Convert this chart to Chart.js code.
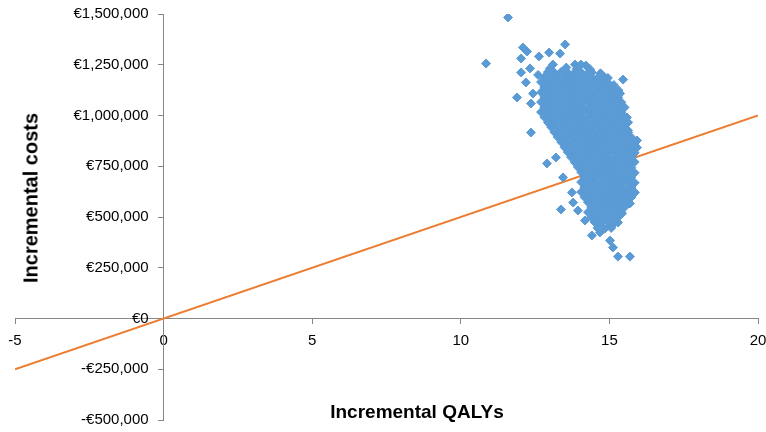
<!DOCTYPE html>
<html>
<head>
<meta charset="utf-8">
<script src="https://cdn.jsdelivr.net/npm/chart.js@4/dist/chart.umd.min.js"></script>
<style>
  html, body { margin: 0; padding: 0; background: #fff; }
  #wrap { position: relative; width: 766px; height: 432px; }
  .axis-title {
    position: absolute;
    font-family: "Liberation Sans", Arial, sans-serif;
    font-weight: bold;
    font-size: 19px;
    color: #000;
    white-space: nowrap;
  }
  #yTitle { left: 31px; top: 198px; font-size: 20px; transform: translate(-50%, -50%) rotate(-90deg); }
  #xTitle { left: 417px; top: 412px; transform: translate(-50%, -50%); }
</style>
</head>
<body>
<div id="wrap">
  <canvas id="ce" width="766" height="432"></canvas>
  <div class="axis-title" id="yTitle">Incremental costs</div>
  <div class="axis-title" id="xTitle">Incremental QALYs</div>
</div>
<script>
/* ── Data ───────────────────────────────────────────────────── */
// axis ticks
const qalyTicks = [-5, 0, 5, 10, 15, 20];
const costTicks = [-500000, -250000, 0, 250000, 500000, 750000, 1000000, 1250000, 1500000];

// willingness-to-pay threshold line (end points)
const wtpQalys = [-5, 20];
const wtpCosts = [-250000, 1000000];

// bootstrap iterations, outlying ones: [incremental QALYs, incremental costs in € thousands]
const outliers = [
  [11.59,1483],[10.85,1256],[12.09,1335],[12.23,1315],[12.03,1281],[12.97,1310],
  [12.63,1291],[12.03,1212],[12.33,1232],[12.19,1163],[13.51,1350],[13.34,1305],
  [13.10,1251],[13.84,1251],[14.04,1251],[14.21,1246],[14.41,1212],[14.85,1187],
  [15.46,1177],[11.89,1089],[12.36,1059],[12.43,1108],[12.36,916],[12.97,961],
  [12.90,764],[13.20,793],[13.44,695],[13.74,621],[13.78,571],[13.37,537],
  [13.94,532],[14.41,409],[14.61,448],[15.02,384],[15.12,350],[15.29,305],
  [15.69,305],[15.59,616],[15.79,670],[14.18,483],[14.68,458],[15.02,458],
  [15.29,473],[15.42,517],[15.69,567],[15.86,621],[14.68,424],
  [15.36,1108],[15.46,1034],[15.59,990],[15.63,926],[15.93,877],[15.93,842],[15.76,793],
  [12.60,1200],[13.00,1232],[13.55,1236],[13.90,1230],[14.35,1228],[14.70,1208],
  [14.95,1185],[15.15,1150],[15.30,1125]
];

// bootstrap iterations, dense cloud: [incremental QALYs, incremental costs in € thousands]
const cloud = [
  [12.93,1214],[13.15,1211],[13.38,1215],[13.60,1210],[13.83,1212],[14.05,1213],[14.28,1209],
  [12.81,1189],[13.04,1186],[13.26,1190],[13.49,1185],[13.71,1187],[13.94,1188],[14.16,1184],[14.39,1189],[14.61,1186],
  [12.70,1165],[12.93,1162],[13.15,1166],[13.38,1161],[13.60,1163],[13.83,1164],[14.05,1160],[14.28,1165],[14.50,1162],[14.73,1166],[14.95,1161],
  [12.81,1140],[13.04,1137],[13.26,1141],[13.49,1136],[13.71,1138],[13.94,1139],[14.16,1135],[14.39,1140],[14.61,1137],[14.84,1141],[15.06,1136],
  [12.70,1115],[12.93,1112],[13.15,1116],[13.38,1111],[13.60,1113],[13.83,1114],[14.05,1110],[14.28,1115],[14.50,1112],[14.73,1116],[14.95,1111],[15.18,1113],
  [12.81,1091],[13.04,1088],[13.26,1092],[13.49,1087],[13.71,1089],[13.94,1090],[14.16,1086],[14.39,1091],[14.61,1088],[14.84,1092],[15.06,1087],[15.29,1089],
  [12.70,1066],[12.93,1063],[13.15,1067],[13.38,1062],[13.60,1064],[13.83,1065],[14.05,1061],[14.28,1066],[14.50,1063],[14.73,1067],[14.95,1062],[15.18,1064],[15.40,1065],
  [12.81,1041],[13.04,1038],[13.26,1042],[13.49,1037],[13.71,1039],[13.94,1040],[14.16,1036],[14.39,1041],[14.61,1038],[14.84,1042],[15.06,1037],[15.29,1039],[15.51,1040],
  [12.70,1017],[12.93,1014],[13.15,1018],[13.38,1013],[13.60,1015],[13.83,1016],[14.05,1012],[14.28,1017],[14.50,1014],[14.73,1018],[14.95,1013],[15.18,1015],[15.40,1016],
  [12.81,992],[13.04,989],[13.26,993],[13.49,988],[13.71,990],[13.94,991],[14.16,987],[14.39,992],[14.61,989],[14.84,993],[15.06,988],[15.29,990],[15.51,991],
  [12.93,967],[13.15,964],[13.38,968],[13.60,963],[13.83,965],[14.05,966],[14.28,962],[14.50,967],[14.73,964],[14.95,968],[15.18,963],[15.40,965],[15.63,966],
  [13.04,943],[13.26,940],[13.49,944],[13.71,939],[13.94,941],[14.16,942],[14.39,938],[14.61,943],[14.84,940],[15.06,944],[15.29,939],[15.51,941],
  [13.15,918],[13.38,915],[13.60,919],[13.83,914],[14.05,916],[14.28,917],[14.50,913],[14.73,918],[14.95,915],[15.18,919],[15.40,914],[15.63,916],
  [13.26,894],[13.49,891],[13.71,895],[13.94,890],[14.16,892],[14.39,893],[14.61,889],[14.84,894],[15.06,891],[15.29,895],[15.51,890],[15.74,892],
  [13.38,869],[13.60,866],[13.83,870],[14.05,865],[14.28,867],[14.50,868],[14.73,864],[14.95,869],[15.18,866],[15.40,870],[15.63,865],[15.85,867],
  [13.49,844],[13.71,841],[13.94,845],[14.16,840],[14.39,842],[14.61,843],[14.84,839],[15.06,844],[15.29,841],[15.51,845],[15.74,840],
  [13.60,820],[13.83,817],[14.05,821],[14.28,816],[14.50,818],[14.73,819],[14.95,815],[15.18,820],[15.40,817],[15.63,821],[15.85,816],
  [13.71,795],[13.94,792],[14.16,796],[14.39,791],[14.61,793],[14.84,794],[15.06,790],[15.29,795],[15.51,792],[15.74,796],
  [13.83,770],[14.05,767],[14.28,771],[14.50,766],[14.73,768],[14.95,769],[15.18,765],[15.40,770],[15.63,767],[15.85,771],
  [13.94,746],[14.16,743],[14.39,747],[14.61,742],[14.84,744],[15.06,745],[15.29,741],[15.51,746],[15.74,743],
  [14.05,721],[14.28,718],[14.50,722],[14.73,717],[14.95,719],[15.18,720],[15.40,716],[15.63,721],[15.85,718],
  [14.16,697],[14.39,694],[14.61,698],[14.84,693],[15.06,695],[15.29,696],[15.51,692],[15.74,697],
  [14.05,672],[14.28,669],[14.50,673],[14.73,668],[14.95,670],[15.18,671],[15.40,667],[15.63,672],[15.85,669],
  [14.16,647],[14.39,644],[14.61,648],[14.84,643],[15.06,645],[15.29,646],[15.51,642],[15.74,647],
  [14.05,623],[14.28,620],[14.50,624],[14.73,619],[14.95,621],[15.18,622],[15.40,618],[15.63,623],
  [14.16,598],[14.39,595],[14.61,599],[14.84,594],[15.06,596],[15.29,597],[15.51,593],[15.74,598],
  [14.28,573],[14.50,570],[14.73,574],[14.95,569],[15.18,571],[15.40,572],[15.63,568],
  [14.39,549],[14.61,546],[14.84,550],[15.06,545],[15.29,547],[15.51,548],
  [14.28,524],[14.50,521],[14.73,525],[14.95,520],[15.18,522],[15.40,523],
  [14.39,500],[14.61,497],[14.84,501],[15.06,496],[15.29,498],
  [14.50,475],[14.73,472],[14.95,476],[15.18,471],
  [14.61,445],[14.84,442],[15.06,446]
];

/* ── Helpers ────────────────────────────────────────────────── */
function euro(v) {
  const s = '€' + Math.abs(v).toLocaleString('en-US');
  return v < 0 ? '-' + s : s;
}
const toPoint = p => ({ x: p[0], y: p[1] * 1000 });

// positioned axes: keep the chart area at the layout padding only
function noScalePadding(s) {
  s.paddingLeft = 0; s.paddingRight = 0; s.paddingTop = 0; s.paddingBottom = 0;
}

const axisGrey = '#868686';
const tickFont = { family: "'Liberation Sans', Arial, sans-serif", size: 15 };

/* ── Chart ──────────────────────────────────────────────────── */
new Chart(document.getElementById('ce'), {
  type: 'scatter',
  data: {
    datasets: [
      {
        label: 'Iterations',
        data: outliers.concat(cloud).map(toPoint),
        pointStyle: 'rectRot',
        pointRadius: 4.5,
        pointBorderWidth: 1,
        backgroundColor: '#5B9BD5',
        borderColor: '#5B9BD5',
        pointHoverRadius: 4.5
      },
      {
        label: 'WTP threshold',
        type: 'line',
        data: wtpQalys.map((q, i) => ({ x: q, y: wtpCosts[i] })),
        borderColor: '#ED7D31',
        borderWidth: 2,
        pointRadius: 0,
        fill: false,
        tension: 0
      }
    ]
  },
  options: {
    responsive: false,
    devicePixelRatio: 1,
    animation: false,
    layout: { padding: { left: 15, right: 8, top: 14, bottom: 12 } },
    plugins: { legend: { display: false }, tooltip: { enabled: false } },
    scales: {
      x: {
        type: 'linear',
        position: { y: 0 },
        min: qalyTicks[0],
        max: qalyTicks[qalyTicks.length - 1],
        afterBuildTicks: s => { s.ticks = qalyTicks.map(v => ({ value: v })); },
        afterFit: noScalePadding,
        grid: { drawOnChartArea: false, drawTicks: true, tickLength: 5, color: axisGrey },
        border: { color: axisGrey, width: 1 },
        ticks: { color: '#000', font: tickFont, padding: 8, maxRotation: 0, autoSkip: false }
      },
      y: {
        type: 'linear',
        position: { x: 0 },
        min: costTicks[0],
        max: costTicks[costTicks.length - 1],
        afterBuildTicks: s => { s.ticks = costTicks.map(v => ({ value: v })); },
        afterFit: noScalePadding,
        grid: { drawOnChartArea: false, drawTicks: true, tickLength: 5, color: axisGrey },
        border: { color: axisGrey, width: 1 },
        // labels of a positioned y axis sit right at the line; en spaces give the gap
        ticks: { color: '#000', font: tickFont, autoSkip: false, callback: v => euro(v) + '\u2002\u2002' }
      }
    }
  }
});
</script>
</body>
</html>
